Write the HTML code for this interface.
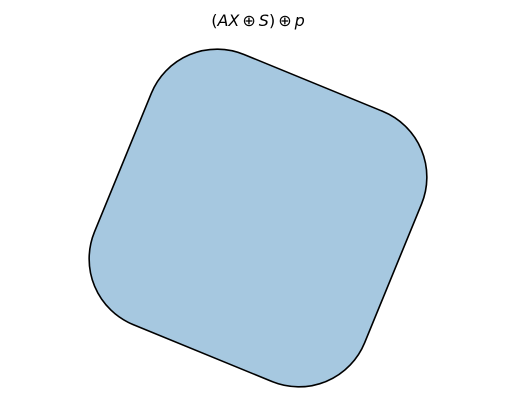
<!DOCTYPE html>
<html><head><meta charset="utf-8"><style>
html,body{margin:0;padding:0;background:#fff;}
svg{display:block;}
</style></head><body>
<svg width="515" height="413" viewBox="0 0 515 413">
<text x="258" y="26" text-anchor="middle" font-family="DejaVu Sans, sans-serif" font-size="16"><tspan>(</tspan><tspan font-style="italic">AX</tspan><tspan dx="3">⊕</tspan><tspan dx="3" font-style="italic">S</tspan><tspan>)</tspan><tspan dx="3">⊕</tspan><tspan dx="3" font-style="italic">p</tspan></text>
<g id="shape-layer"></g>
</svg>
<script>
// Minkowski sum shape: rotated square (side) grown by disk (radius)
const center = [258, 218];
const side = [150];
const radius = [71];
const angleDeg = [22.3];
const g = document.getElementById('shape-layer');
const r = document.createElementNS('http://www.w3.org/2000/svg','rect');
const w = side[0] + 2*radius[0];
r.setAttribute('x', center[0]-w/2);
r.setAttribute('y', center[1]-w/2);
r.setAttribute('width', w);
r.setAttribute('height', w);
r.setAttribute('rx', radius[0]);
r.setAttribute('ry', radius[0]);
r.setAttribute('transform', 'rotate(' + angleDeg[0] + ' ' + center[0] + ' ' + center[1] + ')');
r.setAttribute('fill', '#a6c8e0');
r.setAttribute('stroke', '#000');
r.setAttribute('stroke-width', '1.6');


g.appendChild(r);
</script>
</body></html>
